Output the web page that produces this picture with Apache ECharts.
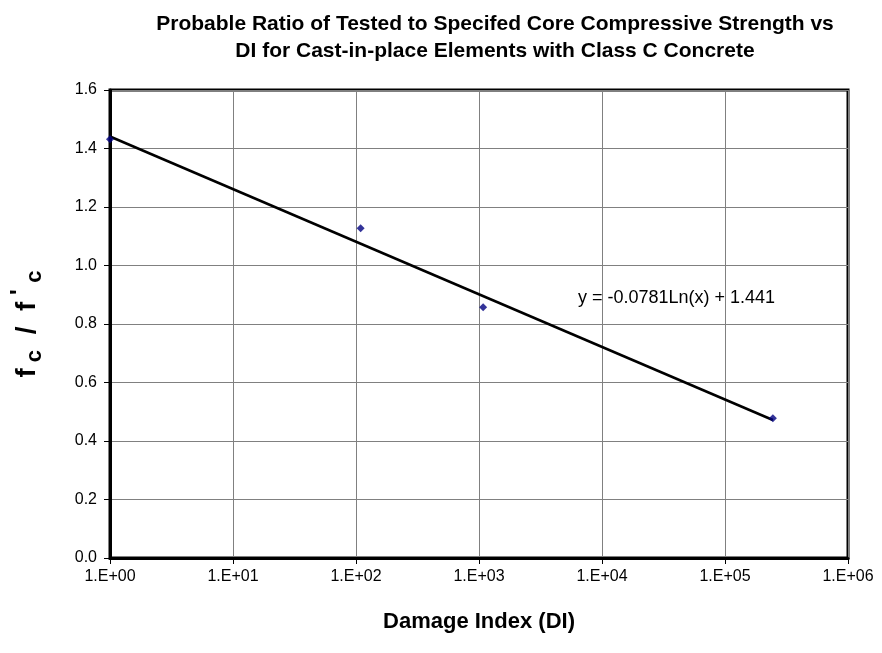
<!DOCTYPE html>
<html>
<head>
<meta charset="utf-8">
<script src="https://cdn.jsdelivr.net/npm/echarts@6/dist/echarts.min.js"></script>
<style>html,body{margin:0;padding:0;background:#fff}#c{width:882px;height:653px}</style>
</head>
<body>
<div id="c"></div>
<script>
const titleLines = ["Probable Ratio of Tested to Specifed Core Compressive Strength vs", "DI for Cast-in-place Elements with Class C Concrete"];
const xName = "Damage Index (DI)";
const damageIndex = [1, 109, 1080, 245000];
const strengthRatio = [1.432, 1.127, 0.857, 0.478];
const trendCoef = [-0.0781, 1.441];
const trendX = [1, 245000];
const trendLabel = "y = -0.0781Ln(x) + 1.441";

const font = "Liberation Sans, Arial, sans-serif";
const chart = echarts.init(document.getElementById('c'), null, {renderer: 'canvas'});
const pts = damageIndex.map((x, i) => [x, strengthRatio[i]]);
const trend = trendX.map(x => [x, trendCoef[0] * Math.log(x) + trendCoef[1]]);

chart.setOption({
  animation: false,
  backgroundColor: '#fff',
  textStyle: {fontFamily: font},
  title: {
    text: titleLines.join('\n'),
    left: 490, top: 6, textAlign: 'center',
    textStyle: {fontFamily: font, fontSize: 21, fontWeight: 'bold', color: '#000', lineHeight: 27}
  },
  grid: {left: 110, right: 34, top: 90, bottom: 95, show: true, borderColor: '#000', borderWidth: 3, backgroundColor: '#fff'},
  xAxis: {
    type: 'log', logBase: 10, min: 1, max: 1e6,
    name: xName, nameLocation: 'middle', nameGap: 53,
    nameTextStyle: {fontFamily: font, fontSize: 22, fontWeight: 'bold', color: '#000'},
    axisLine: {show: true, lineStyle: {color: '#000', width: 3}},
    axisTick: {show: true, length: 6, inside: false, lineStyle: {color: '#000', width: 1}},
    minorTick: {show: false},
    splitLine: {show: true, lineStyle: {color: '#808080', width: 1}},
    axisLabel: {
      fontFamily: font, fontSize: 16, color: '#000', margin: 11,
      formatter: v => { const e = Math.round(Math.log10(v)); return '1.E+' + (e < 10 ? '0' + e : e); }
    }
  },
  yAxis: {
    type: 'value', min: 0, max: 1.6, interval: 0.2,
    name: '{a|f}{s| c}{a|  /  f}{p| \' }{s|c}', nameLocation: 'middle', nameGap: 64, nameRotate: 90,
    nameTextStyle: {
      rich: {
        a: {fontFamily: font, fontSize: 28, fontWeight: 'bold', color: '#000', lineHeight: 28, verticalAlign: 'middle'},
        s: {fontFamily: font, fontSize: 22, fontWeight: 'bold', color: '#000', lineHeight: 38, verticalAlign: 'bottom'},
        p: {fontFamily: font, fontSize: 24, fontWeight: 'bold', color: '#000', lineHeight: 36, verticalAlign: 'top'}
      }
    },
    axisLine: {show: true, lineStyle: {color: '#000', width: 3}},
    axisTick: {show: true, length: 6, inside: false, lineStyle: {color: '#000', width: 1}},
    splitLine: {show: true, lineStyle: {color: '#808080', width: 1}},
    axisLabel: {fontFamily: font, fontSize: 16, color: '#000', margin: 13, formatter: v => v.toFixed(1)}
  },
  series: [
    {
      type: 'line', data: trend, showSymbol: false, symbol: 'none',
      lineStyle: {color: '#000', width: 2.5}, z: 3, silent: true
    },
    {
      type: 'scatter', data: pts, symbol: 'diamond', symbolSize: 8,
      itemStyle: {color: '#000080'}, z: 4
    }
  ],
  graphic: [
    {type: 'text', left: 578, top: 289, style: {text: trendLabel, font: '18px ' + font, fill: '#000'}}
  ]
});
</script>
</body>
</html>
